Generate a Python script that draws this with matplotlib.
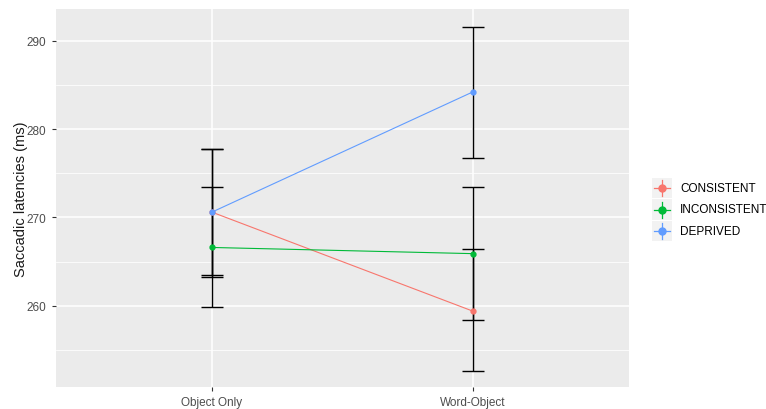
import matplotlib
matplotlib.use("Agg")
import matplotlib.pyplot as plt
from matplotlib.patches import Rectangle
from matplotlib.lines import Line2D

categories = ["Object Only", "Word-Object"]
series = ["CONSISTENT", "INCONSISTENT", "DEPRIVED"]
colors = ["#F8766D", "#00BA38", "#619CFF"]
means = {
    "CONSISTENT": [270.6, 259.4],
    "INCONSISTENT": [266.6, 265.9],
    "DEPRIVED": [270.6, 284.2],
}
lower = {
    "CONSISTENT": [263.45, 252.6],
    "INCONSISTENT": [259.85, 258.4],
    "DEPRIVED": [263.2, 276.7],
}
upper = {
    "CONSISTENT": [277.8, 266.4],
    "INCONSISTENT": [273.4, 273.4],
    "DEPRIVED": [277.8, 291.55],
}
yticks = [260, 270, 280, 290]
minor_ticks = [255, 265, 275, 285]

plt.rcParams['font.family'] = ['Liberation Sans', 'DejaVu Sans']

W, H = 766, 410
fig = plt.figure(figsize=(W / 100, H / 100), dpi=100)
fig.patch.set_facecolor("white")
ax = fig.add_axes([55.5 / W, (H - 388) / H, (629 - 55.5) / W, (388 - 10) / H])
ax.set_facecolor("#EBEBEB")

x = list(range(1, len(categories) + 1))

for s in series:
    lo = [m - l for m, l in zip(means[s], lower[s])]
    hi = [u - m for m, u in zip(means[s], upper[s])]
    ax.errorbar(x, means[s], yerr=[lo, hi], fmt="none", ecolor="black",
                elinewidth=1.0, capsize=7.8, capthick=1.0, zorder=3)
for s, c in zip(series, colors):
    ax.plot(x, means[s], color=c, lw=0.8, zorder=4)
    ax.plot(x, means[s], color=c, marker="o", markersize=3.5, linestyle="None", zorder=5)

ax.set_xlim(0.4, 2.6)
ax.set_ylim(250.8, 293.6)
ax.set_xticks(x)
ax.set_xticklabels(categories)
ax.set_yticks(yticks)
ax.set_yticks(minor_ticks, minor=True)

ax.grid(True, which="major", color="white", lw=1.1, zorder=0)
ax.grid(True, which="minor", axis="y", color="white", lw=0.55, zorder=0)
ax.set_axisbelow(True)
for sp in ax.spines.values():
    sp.set_visible(False)
ax.tick_params(axis="both", which="major", length=3, width=0.8, color="#333333",
               labelcolor="#4D4D4D", labelsize=8.5, pad=3.5)
ax.tick_params(axis="both", which="minor", length=0)
ax.set_ylabel("Saccadic latencies (ms)", fontsize=10.5, color="#1A1A1A", labelpad=-1)

# Legend drawn manually
key_x0, key_w, key_h = 652, 20, 20.5
row_y = [189, 210.5, 232]
for s, c, yc in zip(series, colors, row_y):
    fig.add_artist(Rectangle((key_x0 / W, (H - yc - key_h / 2) / H), key_w / W, key_h / H,
                             transform=fig.transFigure, facecolor="#F2F2F2", edgecolor="none"))
    cx = key_x0 + key_w / 2
    fig.add_artist(Line2D([(key_x0 + 2) / W, (key_x0 + key_w - 2) / W], [(H - yc) / H] * 2,
                          transform=fig.transFigure, color=c, lw=0.9))
    fig.add_artist(Line2D([cx / W] * 2, [(H - yc - 8) / H, (H - yc + 8) / H],
                          transform=fig.transFigure, color=c, lw=0.9))
    fig.add_artist(Line2D([cx / W], [(H - yc) / H], transform=fig.transFigure, color=c,
                          marker="o", markersize=5, linestyle="None"))
    fig.text(680 / W, (H - yc) / H, s, fontsize=8.5, color="black", va="center", ha="left")

fig.savefig("out.png", dpi=100)
